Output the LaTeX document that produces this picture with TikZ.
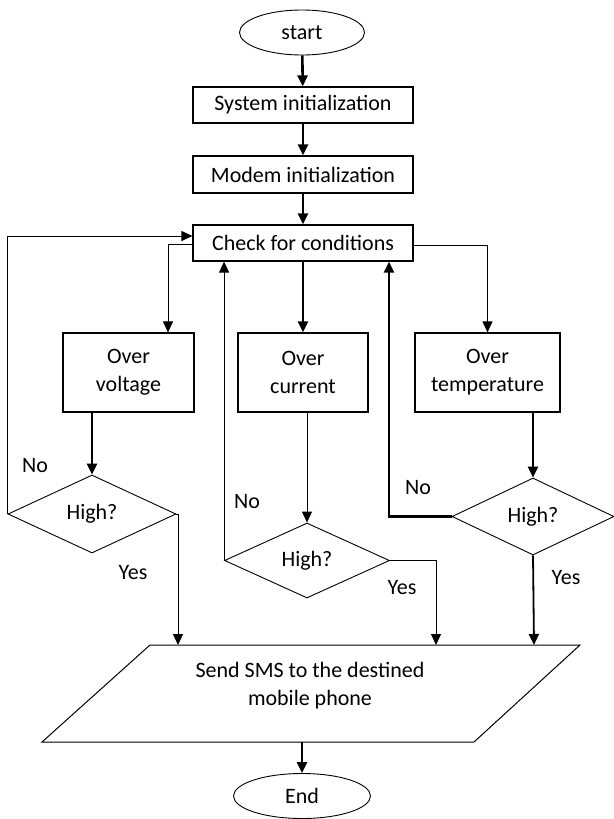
\documentclass[tikz,border=0pt]{standalone}
\usepackage{fontspec}
\setmainfont{Carlito}
\usetikzlibrary{shapes.geometric,arrows.meta}
\begin{document}
\begin{tikzpicture}[x=1pt,y=-1pt,
  font=\fontsize{22}{28}\selectfont,
  box/.style={draw,line width=1.2pt,rectangle,inner sep=0pt,fill=white,align=center},
  term/.style={draw,line width=0.9pt,ellipse,inner sep=0pt},
  dia/.style={draw,line width=0.9pt,diamond,inner sep=0pt},
  lbl/.style={inner sep=0pt},
  thinarr/.style={line width=1pt,-{Triangle[length=11pt,width=10pt]}},
  medarr/.style={line width=1.8pt,-{Triangle[length=11pt,width=10pt]}},
  thkarr/.style={line width=2.6pt,-{Triangle[length=11pt,width=10pt]}}]
\useasboundingbox (0,0) rectangle (613,819);
% terminals
\node[term,minimum width=125pt,minimum height=45pt] (start) at (302,32.5) {start};
\node[term,minimum width=137pt,minimum height=45pt] (end) at (302,796) {End};
% process boxes
\node[box,minimum width=220pt,minimum height=36pt] (sys) at (303,105) {System initialization};
\node[box,minimum width=220pt,minimum height=37pt] (mod) at (303,174.5) {Modem initialization};
\node[box,minimum width=220pt,minimum height=36pt] (chk) at (303,243) {Check for conditions};
\node[box,minimum width=131pt,minimum height=79pt] (ov) at (128.5,372.5) {Over\\voltage};
\node[box,minimum width=130pt,minimum height=79pt] (oc) at (303,372.5) {Over\\current};
\node[box,minimum width=145pt,minimum height=79pt] (ot) at (487.5,372.5) {Over\\temperature};
% decisions
\node[dia,minimum width=168pt,minimum height=78pt] (d1) at (92,514) {High?};
\node[dia,minimum width=165pt,minimum height=75pt] (d2) at (307,560.5) {High?};
\node[dia,minimum width=162pt,minimum height=77pt] (d3) at (533,516.5) {High?};
% parallelogram (output)
\coordinate (tl) at (150,645);
\coordinate (tr) at (580,645);
\coordinate (br) at (474,742);
\coordinate (bl) at (42,742);
\draw[line width=1pt] (tl) -- (tr) -- (br) -- (bl) -- cycle;
\node[lbl,align=center] (sms) at (310,686) {Send SMS to the destined\\mobile phone};
\coordinate (p1) at (178,645);
\coordinate (p2) at (436,645);
\coordinate (p3) at (534,645);
\coordinate (pb) at (302,742);
% labels
\node[lbl] (no1) at (35,466) {No};
\node[lbl] (yes1) at (133,573) {Yes};
\node[lbl] (no2) at (247,502) {No};
\node[lbl] (yes2) at (402,588) {Yes};
\node[lbl] (no3) at (418,488) {No};
\node[lbl] (yes3) at (566,578) {Yes};
% main flow
\draw[thkarr] (start) -- (sys);
\draw[thkarr] (sys) -- (mod);
\draw[thkarr] (mod) -- (chk);
\draw[thkarr] (chk) -- (oc);
\draw[thinarr] ([yshift=-1pt]chk.west) -| ([xshift=39.5pt]ov.north);
\draw[thinarr] ([yshift=-2pt]chk.east) -| (ot.north);
\draw[thkarr] ([xshift=-36.5pt]ov.south) -- (d1.north);
\draw[thinarr] ([xshift=4pt]oc.south) -- (d2.north);
\draw[thkarr] ([xshift=45.5pt]ot.south) -- (d3.north);
% No loops
\draw[thinarr] (d1.west) |- ([yshift=7pt]chk.west);
\draw[thinarr] (d2.west) -- (d2.west |- chk.south);
\draw[thkarr] (d3.west) -| ([xshift=86pt]chk.south);
% Yes paths
\draw[thinarr] (d1.east) -| (p1);
\draw[thinarr] (d2.east) -| (p2);
\draw[medarr] (d3.south) -- (p3);
\draw[thkarr] (pb) -- (end);
\end{tikzpicture}
\end{document}
